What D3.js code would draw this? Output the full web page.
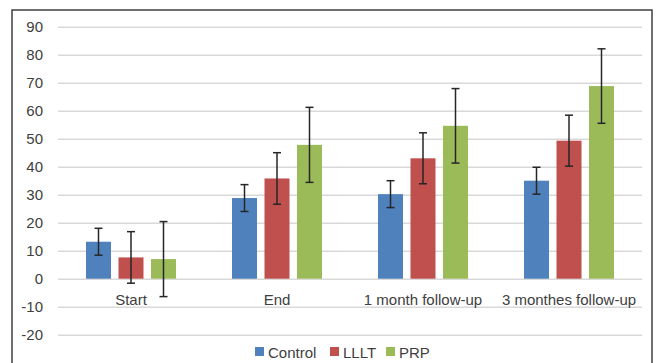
<!DOCTYPE html>
<html><head><meta charset="utf-8">
<script src="https://cdn.jsdelivr.net/npm/d3@7"></script>
<style>html,body{margin:0;padding:0;background:#fff;}svg{display:block;}</style>
</head><body>
<svg id="c" width="661" height="363"></svg>
<script>
const categories = ["Start", "End", "1 month follow-up", "3 monthes follow-up"];
const seriesNames = ["Control", "LLLT", "PRP"];
const controlValues = [13.2, 28.8, 30.2, 35.0];
const controlErrors = [4.8, 4.8, 4.8, 4.8];
const llltValues = [7.6, 35.8, 43.0, 49.3];
const llltErrors = [9.2, 9.2, 9.1, 9.1];
const prpValues = [7.0, 47.8, 54.6, 68.8];
const prpErrors = [13.4, 13.4, 13.3, 13.3];
const yTicks = [-20, -10, 0, 10, 20, 30, 40, 50, 60, 70, 80, 90];
const colors = ["#4F81BD", "#C0504D", "#9BBB59"];

const valuesBySeries = [controlValues, llltValues, prpValues];
const errorsBySeries = [controlErrors, llltErrors, prpErrors];

const svg = d3.select("#c");
const font = "'Liberation Sans', Arial, sans-serif";

// frame
svg.append("rect").attr("x", 12).attr("y", 10).attr("width", 640).attr("height", 370)
  .attr("fill", "none").attr("stroke", "#404040").attr("stroke-width", 1.5);

const left = 58, right = 642;
const y = d3.scaleLinear().domain([-20, 90]).range([334.7, 26.7]);
const x0 = d3.scaleBand().domain(categories).range([left, right]);
const x1 = d3.scaleBand().domain(seriesNames).range([-48.75, 48.75]).paddingInner(0.2308).paddingOuter(0.1154);

// gridlines
const yAxis = d3.axisLeft(y).tickValues(yTicks).tickSize(-(right - left)).tickPadding(15)
  .tickFormat(d => String(d));
const ga = svg.append("g").attr("transform", `translate(${left},0)`).call(yAxis);
ga.select(".domain").remove();
ga.selectAll(".tick line").attr("stroke", "#d9d9d9").attr("stroke-width", 1.5);
ga.selectAll(".tick text").attr("fill", "#404040").attr("font-size", 15).attr("font-family", font);

// bars
const data = [];
categories.forEach((c, i) => seriesNames.forEach((s, j) => {
  data.push({c, s, j, v: valuesBySeries[j][i], e: errorsBySeries[j][i]});
}));
const bx = d => x0(d.c) + x0.bandwidth() / 2 + x1(d.s);
svg.append("g").selectAll("rect").data(data).join("rect")
  .attr("x", bx).attr("width", x1.bandwidth())
  .attr("y", d => y(Math.max(0, d.v))).attr("height", d => Math.abs(y(d.v) - y(0)))
  .attr("fill", d => colors[d.j]);

// error bars
const eg = svg.append("g").attr("stroke", "#262626").attr("stroke-width", 1.5);
data.forEach(d => {
  const cx = bx(d) + x1.bandwidth() / 2;
  eg.append("line").attr("x1", cx).attr("x2", cx).attr("y1", y(d.v + d.e)).attr("y2", y(d.v - d.e));
  eg.append("line").attr("x1", cx - 4).attr("x2", cx + 4).attr("y1", y(d.v + d.e)).attr("y2", y(d.v + d.e));
  eg.append("line").attr("x1", cx - 4).attr("x2", cx + 4).attr("y1", y(d.v - d.e)).attr("y2", y(d.v - d.e));
});

// category labels
svg.append("g").selectAll("text").data(categories).join("text")
  .attr("x", d => x0(d) + x0.bandwidth() / 2).attr("y", y(0) + 26)
  .attr("text-anchor", "middle").attr("font-size", 15).attr("font-family", font).attr("fill", "#404040")
  .text(d => d);

// legend
const legendX = [255, 330, 386];
const lg = svg.append("g");
seriesNames.forEach((s, j) => {
  lg.append("rect").attr("x", legendX[j]).attr("y", 347).attr("width", 9).attr("height", 9).attr("fill", colors[j]);
  lg.append("text").attr("x", legendX[j] + 13).attr("y", 357.5).attr("font-size", 15)
    .attr("font-family", font).attr("fill", "#404040").text(s);
});
</script>
</body></html>
